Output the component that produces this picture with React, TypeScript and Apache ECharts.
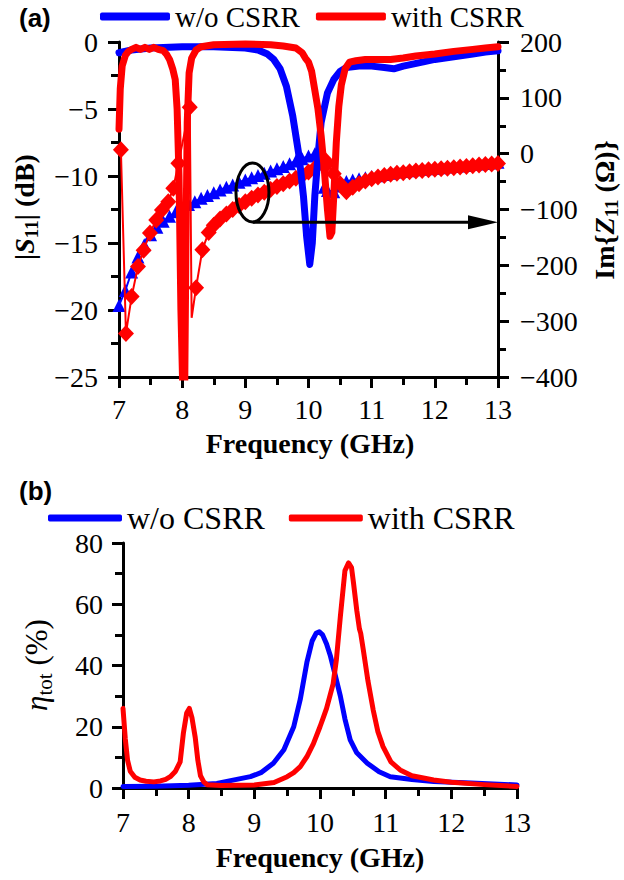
import React, { useEffect, useRef } from 'react';
import * as echarts from 'echarts';

const SERIF = 'Liberation Serif, Times New Roman, Times, DejaVu Serif, serif';
const SANS = 'Liberation Sans, Arial, sans-serif';
const BLUE = '#0000ff';
const RED = '#ff0000';

// ---- (a) |S11| (dB) ----
const s11BlueFreq = [7.0, 7.2, 7.5, 8.0, 8.5, 9.0, 9.2, 9.35, 9.45, 9.55, 9.65, 9.75, 9.85, 9.92, 9.97, 10.02, 10.06, 10.1, 10.15, 10.2, 10.3, 10.4, 10.5, 10.6, 10.8, 11.0, 11.2, 11.35, 11.5, 11.8, 12.0, 12.3, 12.6, 12.8, 13.0];
const s11BlueDb = [-0.8, -0.6, -0.45, -0.35, -0.35, -0.45, -0.6, -0.9, -1.3, -2.0, -3.3, -5.5, -8.5, -11.5, -14.5, -16.6, -15.0, -11.5, -8.5, -6.0, -3.8, -2.8, -2.2, -1.9, -1.8, -1.8, -1.9, -2.0, -1.8, -1.5, -1.3, -1.1, -0.9, -0.75, -0.65];

const s11RedFreq = [7.0, 7.02, 7.05, 7.1, 7.15, 7.2, 7.27, 7.34, 7.41, 7.48, 7.55, 7.62, 7.7, 7.75, 7.8, 7.85, 7.89, 7.92, 7.95, 7.98, 8.01, 8.04, 8.06, 8.08, 8.11, 8.15, 8.22, 8.3, 8.5, 9.0, 9.4, 9.6, 9.8, 9.9, 9.95, 10.0, 10.05, 10.1, 10.15, 10.2, 10.25, 10.3, 10.34, 10.37, 10.4, 10.44, 10.48, 10.52, 10.58, 10.65, 10.75, 10.9, 11.1, 11.3, 11.5, 11.7, 12.0, 12.3, 12.6, 12.8, 13.0];
const s11RedDb = [-6.5, -3.5, -1.8, -1.0, -0.7, -0.55, -0.4, -0.55, -0.4, -0.55, -0.4, -0.55, -0.65, -0.9, -1.3, -2.0, -2.8, -5.0, -10, -20, -26, -26, -15, -6, -2.3, -1.2, -0.6, -0.35, -0.2, -0.15, -0.2, -0.3, -0.45, -0.8, -1.2, -1.5, -2.2, -3.6, -5.0, -7.0, -9.5, -12.5, -14.5, -14.2, -11.5, -7.5, -4.8, -3.2, -2.0, -1.5, -1.4, -1.3, -1.3, -1.3, -1.2, -1.05, -0.9, -0.7, -0.55, -0.45, -0.35];

// ---- (a) Im{Z11} (Ohm) ----
const zBlueFreq = [7.0, 7.1, 7.2, 7.3, 7.4, 7.5, 7.6, 7.7, 7.8, 7.9, 8.0, 8.1, 8.2, 8.3, 8.4, 8.5, 8.6, 8.7, 8.8, 8.9, 9.0, 9.1, 9.2, 9.3, 9.4, 9.5, 9.6, 9.7, 9.8, 9.9, 10.0, 10.1, 10.2, 10.25, 10.3, 10.4, 10.5, 10.6, 10.7, 10.8, 10.9, 11.0, 11.1, 11.2, 11.3, 11.4, 11.5, 11.6, 11.7, 11.8, 11.9, 12.0, 12.1, 12.2, 12.3, 12.4, 12.5, 12.6, 12.7, 12.8, 12.9, 13.0];
const zBlueOhm = [-272, -245, -212, -185, -163, -145, -132, -121, -112, -104, -97, -91, -86, -80, -75, -70, -65, -60, -56, -51, -47, -43, -39, -35, -31, -27, -23, -18, -13, -9, -4, 0, 4, -60, -66, -68, -58, -50, -47, -45, -43, -41, -39.5, -37.5, -35, -33, -32, -30.5, -29, -28, -27, -26, -25, -24, -23, -22, -21, -19.5, -18.5, -17.5, -16.5, -15.5];

const zRedFreq = [7.03, 7.11, 7.2, 7.3, 7.39, 7.49, 7.59, 7.68, 7.78, 7.86, 7.94, 8.12, 8.15, 8.22, 8.32, 8.42, 8.5, 8.6, 8.7, 8.8, 8.9, 9.0, 9.1, 9.2, 9.3, 9.4, 9.5, 9.6, 9.7, 9.8, 9.9, 10.0, 10.1, 10.2, 10.25, 10.3, 10.4, 10.5, 10.6, 10.7, 10.8, 10.9, 11.0, 11.1, 11.2, 11.3, 11.4, 11.5, 11.6, 11.7, 11.8, 11.9, 12.0, 12.1, 12.2, 12.3, 12.4, 12.5, 12.6, 12.7, 12.8, 12.9, 13.0];
const zRedOhm = [7, -322, -256, -202, -173, -142, -119, -101, -86, -62, -17, 83, -294, -240, -172, -141, -128, -117, -108, -100, -93, -86, -80, -74, -69, -64, -59, -54, -49, -44, -39, -33, -26, -15, -10, -18, -36, -54, -68, -60, -54, -49, -45, -42, -39, -37, -35, -34, -32.5, -31, -30, -29, -28, -27, -26, -25, -24, -23, -21.5, -20.5, -19.5, -18.5, -17.5];
const zRedNoMarkerFreq = [8.15];

// ---- (b) eta_tot (%) ----
const etaBlueFreq = [7.0, 7.5, 8.0, 8.43, 8.94, 9.1, 9.29, 9.45, 9.6, 9.7, 9.8, 9.88, 9.94, 9.99, 10.04, 10.1, 10.16, 10.23, 10.31, 10.38, 10.46, 10.56, 10.72, 10.9, 11.07, 11.4, 11.73, 12.3, 13.0];
const etaBlueVal = [0.5, 0.6, 0.9, 1.5, 3.7, 5.0, 8.1, 12.5, 20, 29, 41, 48, 50.5, 51, 50, 47, 43, 37, 30, 22.5, 15.7, 11.5, 8.1, 5.3, 3.7, 2.8, 2.1, 1.6, 1.0];

const etaRedFreq = [7.0, 7.035, 7.07, 7.11, 7.18, 7.26, 7.35, 7.47, 7.57, 7.65, 7.72, 7.8, 7.87, 7.92, 7.97, 8.01, 8.05, 8.1, 8.14, 8.18, 8.23, 8.28, 8.5, 9.0, 9.3, 9.5, 9.6, 9.7, 9.8, 9.9, 10.0, 10.05, 10.1, 10.2, 10.25, 10.31, 10.38, 10.435, 10.48, 10.51, 10.56, 10.6, 10.62, 10.66, 10.73, 10.81, 10.88, 10.96, 11.08, 11.22, 11.4, 11.73, 12.0, 12.5, 13.0];
const etaRedVal = [26, 16, 9, 5.5, 3.5, 2.6, 2.2, 2.0, 2.3, 2.8, 3.7, 5.5, 8.5, 18, 24.5, 26, 23, 16.5, 9, 4, 2, 1.1, 0.8, 1.0, 1.8, 3.7, 5, 7, 10.2, 14.5, 20, 23, 26, 34, 42, 56, 71, 73.5, 72, 67, 58, 52, 50.5, 45, 35, 25.5, 18.5, 13.5, 8.5, 5.9, 4, 2.6, 1.9, 1.1, 0.5];

// annotation (data coordinates on top x axis / right y axis)
const ellipseCenter = [9.113, -69.5];
const arrowFrom = [9.12, -123];
const arrowTo = [13, -123];

const legendNames = ['w/o CSRR', 'with CSRR'];

const pairs = (xs: number[], ys: number[]) => xs.map((x, i) => [x, ys[i]]);
const minusFmt = (v: number) => (v < 0 ? '\u2212' + Math.abs(v) : String(v));

function axisStyle(labelMargin: number) {
  return {
    axisLine: { show: true, onZero: false, lineStyle: { color: '#000', width: 3 } },
    axisTick: { show: true, inside: false, length: 11, lineStyle: { color: '#000', width: 3 } },
    minorTick: { show: true, splitNumber: 2, length: 8, lineStyle: { color: '#000', width: 3 } },
    splitLine: { show: false },
    minorSplitLine: { show: false },
    axisLabel: { color: '#000', fontFamily: SERIF, fontSize: 28, margin: labelMargin, formatter: minusFmt },
  };
}

const titleRich = {
  b: { fontFamily: SERIF, fontWeight: 'bold', fontSize: 28, lineHeight: 34, fill: '#000' },
  bi: { fontFamily: SERIF, fontWeight: 'bold', fontStyle: 'italic', fontSize: 28, lineHeight: 34, fill: '#000' },
  sub: { fontFamily: SERIF, fontWeight: 'bold', fontSize: 19, lineHeight: 20, verticalAlign: 'bottom', fill: '#000' },
  r: { fontFamily: SERIF, fontSize: 31, lineHeight: 38, fill: '#000' },
  i: { fontFamily: SERIF, fontStyle: 'italic', fontSize: 31, lineHeight: 38, fill: '#000' },
  subr: { fontFamily: SERIF, fontSize: 21, lineHeight: 22, verticalAlign: 'bottom', fill: '#000' },
};

export default function App() {
  const ref = useRef<HTMLDivElement>(null);
  useEffect(() => {
    if (!ref.current) return;
    const chart = echarts.init(ref.current, undefined, { renderer: 'svg' });
    const legendCommon = {
      orient: 'horizontal',
      icon: 'roundRect',
      padding: 0,
      selectedMode: false,
      data: legendNames,
    };
    const option: any = {
      animation: false,
      backgroundColor: '#fff',
      textStyle: { fontFamily: SERIF },
      grid: [
        { left: 119, top: 42, width: 379, height: 335, outerBoundsMode: 'none' },
        { left: 123, top: 543, width: 394, height: 245, outerBoundsMode: 'none' },
      ],
      xAxis: [
        { type: 'value', gridIndex: 0, min: 7, max: 13, interval: 1, ...axisStyle(18) },
        { type: 'value', gridIndex: 1, min: 7, max: 13, interval: 1, ...axisStyle(20) },
      ],
      yAxis: [
        { type: 'value', gridIndex: 0, min: -25, max: 0, interval: 5, position: 'left', ...axisStyle(21) },
        { type: 'value', gridIndex: 0, min: -400, max: 200, interval: 100, position: 'right', ...axisStyle(22) },
        { type: 'value', gridIndex: 1, min: 0, max: 80, interval: 20, position: 'left', ...axisStyle(20) },
      ],
      legend: [
        {
          ...legendCommon, left: 100, top: 2, itemWidth: 70, itemHeight: 8, itemGap: 16,
          textStyle: { fontFamily: SERIF, fontSize: 29, color: '#000' },
        },
        {
          ...legendCommon, left: 48, top: 502, itemWidth: 74, itemHeight: 7, itemGap: 24,
          textStyle: { fontFamily: SERIF, fontSize: 32, color: '#000' },
        },
      ],
      series: [
        {
          name: 'w/o CSRR Z', type: 'line', xAxisIndex: 0, yAxisIndex: 1,
          data: pairs(zBlueFreq, zBlueOhm), symbol: 'triangle', symbolSize: 13, showSymbol: true,
          itemStyle: { color: BLUE }, lineStyle: { color: BLUE, width: 2 }, z: 2,
        },
        {
          name: 'with CSRR Z', type: 'line', xAxisIndex: 0, yAxisIndex: 1,
          data: zRedFreq.map((f, i) => (zRedNoMarkerFreq.includes(f) ? { value: [f, zRedOhm[i]], symbol: 'none' } : [f, zRedOhm[i]])),
          symbol: 'diamond', symbolSize: [16, 17], showSymbol: true,
          itemStyle: { color: RED }, lineStyle: { color: RED, width: 2 }, z: 3,
        },
        {
          name: 'w/o CSRR', type: 'line', xAxisIndex: 0, yAxisIndex: 0,
          data: pairs(s11BlueFreq, s11BlueDb), symbol: 'none',
          itemStyle: { color: BLUE }, lineStyle: { color: BLUE, width: 7, cap: 'round', join: 'round' }, z: 4,
        },
        {
          name: 'with CSRR', type: 'line', xAxisIndex: 0, yAxisIndex: 0,
          data: pairs(s11RedFreq, s11RedDb), symbol: 'none',
          itemStyle: { color: RED }, lineStyle: { color: RED, width: 7, cap: 'round', join: 'round' }, z: 5,
        },
        {
          name: 'w/o CSRR', type: 'line', xAxisIndex: 1, yAxisIndex: 2,
          data: pairs(etaBlueFreq, etaBlueVal), symbol: 'none',
          itemStyle: { color: BLUE }, lineStyle: { color: BLUE, width: 5, cap: 'round', join: 'round' }, z: 4,
        },
        {
          name: 'with CSRR', type: 'line', xAxisIndex: 1, yAxisIndex: 2,
          data: pairs(etaRedFreq, etaRedVal), symbol: 'none',
          itemStyle: { color: RED }, lineStyle: { color: RED, width: 5, cap: 'round', join: 'round' }, z: 5,
        },
      ],
    };
    chart.setOption(option);

    const finder = { xAxisIndex: 0, yAxisIndex: 1 };
    const c = chart.convertToPixel(finder as any, ellipseCenter) as number[];
    const a0 = chart.convertToPixel(finder as any, arrowFrom) as number[];
    const a1 = chart.convertToPixel(finder as any, arrowTo) as number[];
    const headLen = 30;
    const headHalf = 7;

    chart.setOption({
      graphic: [
        { type: 'text', x: 19, y: 18, style: { text: '(a)', fontFamily: SANS, fontWeight: 'bold', fontSize: 26, fill: '#000', verticalAlign: 'middle' } },
        { type: 'text', x: 19, y: 491, style: { text: '(b)', fontFamily: SANS, fontWeight: 'bold', fontSize: 26, fill: '#000', verticalAlign: 'middle' } },
        {
          type: 'text', x: 24, y: 207, rotation: Math.PI / 2,
          style: { text: '{b||}{bi|S}{sub|11}{b|| (dB)}', rich: titleRich, align: 'center', verticalAlign: 'middle' },
        },
        {
          type: 'text', x: 604, y: 210, rotation: Math.PI / 2,
          style: { text: '{b|Im{}{bi|Z}{sub|11}{b|\u007D (\u03A9)}', rich: titleRich, align: 'center', verticalAlign: 'middle', fontFamily: SERIF, fontWeight: 'bold', fontSize: 28, fill: '#000' },
        },
        {
          type: 'text', x: 310, y: 443,
          style: { text: 'Frequency (GHz)', fontFamily: SERIF, fontWeight: 'bold', fontSize: 28, fill: '#000', align: 'center', verticalAlign: 'middle' },
        },
        {
          type: 'text', x: 36, y: 665, rotation: Math.PI / 2,
          style: { text: '{i|\u03B7}{subr|tot}{r| (%)}', rich: titleRich, align: 'center', verticalAlign: 'middle' },
        },
        {
          type: 'text', x: 320, y: 857,
          style: { text: 'Frequency (GHz)', fontFamily: SERIF, fontWeight: 'bold', fontSize: 28, fill: '#000', align: 'center', verticalAlign: 'middle' },
        },
        {
          type: 'ellipse', z: 100,
          shape: { cx: c[0], cy: c[1], rx: 16.5, ry: 29.5 },
          style: { fill: 'none', stroke: '#000', lineWidth: 3 },
        },
        {
          type: 'line', z: 100,
          shape: { x1: a0[0], y1: a0[1], x2: a1[0] - headLen + 2, y2: a1[1] },
          style: { stroke: '#000', lineWidth: 3 },
        },
        {
          type: 'polygon', z: 100,
          shape: { points: [[a1[0], a1[1]], [a1[0] - headLen, a1[1] - headHalf], [a1[0] - headLen, a1[1] + headHalf]] },
          style: { fill: '#000' },
        },
      ],
    });
    return () => chart.dispose();
  }, []);
  return <div ref={ref} style={{ position: 'absolute', left: 0, top: 0, width: 624, height: 880, background: '#fff' }} />;
}
